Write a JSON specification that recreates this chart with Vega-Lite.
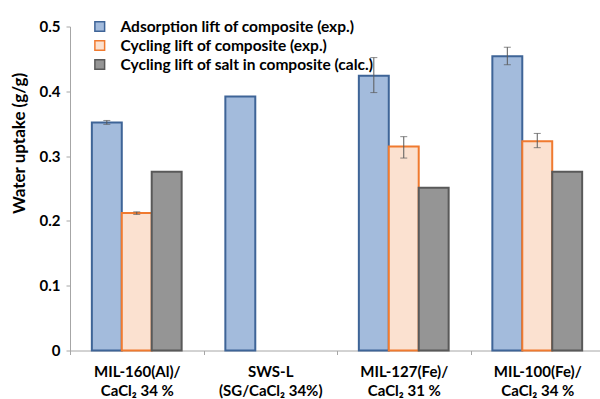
{
  "$schema": "https://vega.github.io/schema/vega-lite/v6.json",
  "autosize": "none",
  "width": 534,
  "height": 324,
  "padding": {"left": 70, "top": 26.5, "right": 0, "bottom": 48.5},
  "background": "white",
  "config": {
    "font": "Lato",
    "view": {"stroke": null}
  },
  "data": {
    "values": [
      {"group": "MIL-160(Al)/|CaCl₂ 34 %", "series": "Adsorption lift of composite (exp.)", "uptake": 0.352, "lo": 0.349, "hi": 0.355},
      {"group": "MIL-160(Al)/|CaCl₂ 34 %", "series": "Cycling lift of composite (exp.)", "uptake": 0.212, "lo": 0.210, "hi": 0.214},
      {"group": "MIL-160(Al)/|CaCl₂ 34 %", "series": "Cycling lift of salt in composite (calc.)", "uptake": 0.276},
      {"group": "SWS-L|(SG/CaCl₂ 34%)", "series": "Adsorption lift of composite (exp.)", "uptake": 0.392},
      {"group": "MIL-127(Fe)/|CaCl₂ 31 %", "series": "Adsorption lift of composite (exp.)", "uptake": 0.424, "lo": 0.398, "hi": 0.452},
      {"group": "MIL-127(Fe)/|CaCl₂ 31 %", "series": "Cycling lift of composite (exp.)", "uptake": 0.315, "lo": 0.297, "hi": 0.330},
      {"group": "MIL-127(Fe)/|CaCl₂ 31 %", "series": "Cycling lift of salt in composite (calc.)", "uptake": 0.251},
      {"group": "MIL-100(Fe)/|CaCl₂ 34 %", "series": "Adsorption lift of composite (exp.)", "uptake": 0.454, "lo": 0.441, "hi": 0.468},
      {"group": "MIL-100(Fe)/|CaCl₂ 34 %", "series": "Cycling lift of composite (exp.)", "uptake": 0.323, "lo": 0.313, "hi": 0.335},
      {"group": "MIL-100(Fe)/|CaCl₂ 34 %", "series": "Cycling lift of salt in composite (calc.)", "uptake": 0.276}
    ]
  },
  "encoding": {
    "x": {
      "field": "group",
      "type": "nominal",
      "sort": null,
      "scale": {"paddingInner": 0, "paddingOuter": 0},
      "axis": {
        "title": null,
        "labelAngle": 0,
        "labelExpr": "split(datum.label, '|')",
        "labelFont": "Lato",
        "labelFontWeight": "bold",
        "labelFontSize": 15,
        "labelColor": "#000000",
        "labelLineHeight": 19,
        "labelPadding": 10,
        "labelBaseline": "top",
        "tickBand": "extent",
        "tickSize": 4,
        "tickColor": "#a6a6a6",
        "domainColor": "#a6a6a6",
        "domainWidth": 1
      }
    },
    "xOffset": {
      "field": "series",
      "type": "nominal",
      "sort": null,
      "scale": {"paddingInner": 0, "paddingOuter": 0.73}
    }
  },
  "layer": [
    {
      "mark": {"type": "bar", "strokeWidth": 2},
      "encoding": {
        "y": {
          "field": "uptake",
          "type": "quantitative",
          "scale": {"domain": [0, 0.5], "nice": false},
          "axis": {
            "title": "Water uptake (g/g)",
            "titleFont": "Lato",
            "titleFontSize": 17,
            "titleFontWeight": "bold",
            "titleColor": "#000000",
            "titleAngle": -90,
            "titleX": -50.5,
            "titleY": 116.5,
            "titleAlign": "center",
            "titleBaseline": "middle",
            "values": [0, 0.1, 0.2, 0.3, 0.4, 0.5],
            "format": "~g",
            "labelFont": "Lato",
            "labelFontWeight": "bold",
            "labelFontSize": 15,
            "labelColor": "#000000",
            "labelPadding": 6,
            "grid": false,
            "tickSize": 4,
            "tickColor": "#a6a6a6",
            "domainColor": "#a6a6a6"
          }
        },
        "fill": {
          "field": "series",
          "type": "nominal",
          "sort": null,
          "scale": {
            "domain": ["Adsorption lift of composite (exp.)", "Cycling lift of composite (exp.)", "Cycling lift of salt in composite (calc.)"],
            "range": ["#a3bbdc", "#fbe1d0", "#959595"]
          },
          "legend": {
            "title": null,
            "orient": "none",
            "legendX": 22,
            "legendY": -9,
            "symbolType": "square",
            "symbolSize": 95,
            "symbolStrokeWidth": 1.5,
            "labelFont": "Lato",
            "labelFontWeight": "bold",
            "labelFontSize": 15.5,
            "labelColor": "#000000",
            "labelOffset": 13,
            "clipHeight": 18,
            "rowPadding": 1,
            "labelLimit": 400
          }
        },
        "stroke": {
          "field": "series",
          "type": "nominal",
          "sort": null,
          "scale": {
            "domain": ["Adsorption lift of composite (exp.)", "Cycling lift of composite (exp.)", "Cycling lift of salt in composite (calc.)"],
            "range": ["#3e6497", "#f07a2f", "#595959"]
          },
          "legend": {
            "title": null,
            "orient": "none",
            "legendX": 22,
            "legendY": -9,
            "symbolType": "square",
            "symbolSize": 95,
            "symbolStrokeWidth": 1.5,
            "labelFont": "Lato",
            "labelFontWeight": "bold",
            "labelFontSize": 15.5,
            "labelColor": "#000000",
            "labelOffset": 13,
            "clipHeight": 18,
            "rowPadding": 1,
            "labelLimit": 400
          }
        }
      }
    },
    {
      "transform": [{"filter": "isValid(datum.lo)"}],
      "mark": {"type": "rule", "color": "#595959", "strokeWidth": 1},
      "encoding": {
        "y": {"field": "lo", "type": "quantitative"},
        "y2": {"field": "hi"}
      }
    },
    {
      "transform": [{"filter": "isValid(datum.lo)"}],
      "mark": {"type": "tick", "color": "#595959", "size": 7, "thickness": 1},
      "encoding": {"y": {"field": "lo", "type": "quantitative"}}
    },
    {
      "transform": [{"filter": "isValid(datum.hi)"}],
      "mark": {"type": "tick", "color": "#595959", "size": 7, "thickness": 1},
      "encoding": {"y": {"field": "hi", "type": "quantitative"}}
    }
  ]
}
